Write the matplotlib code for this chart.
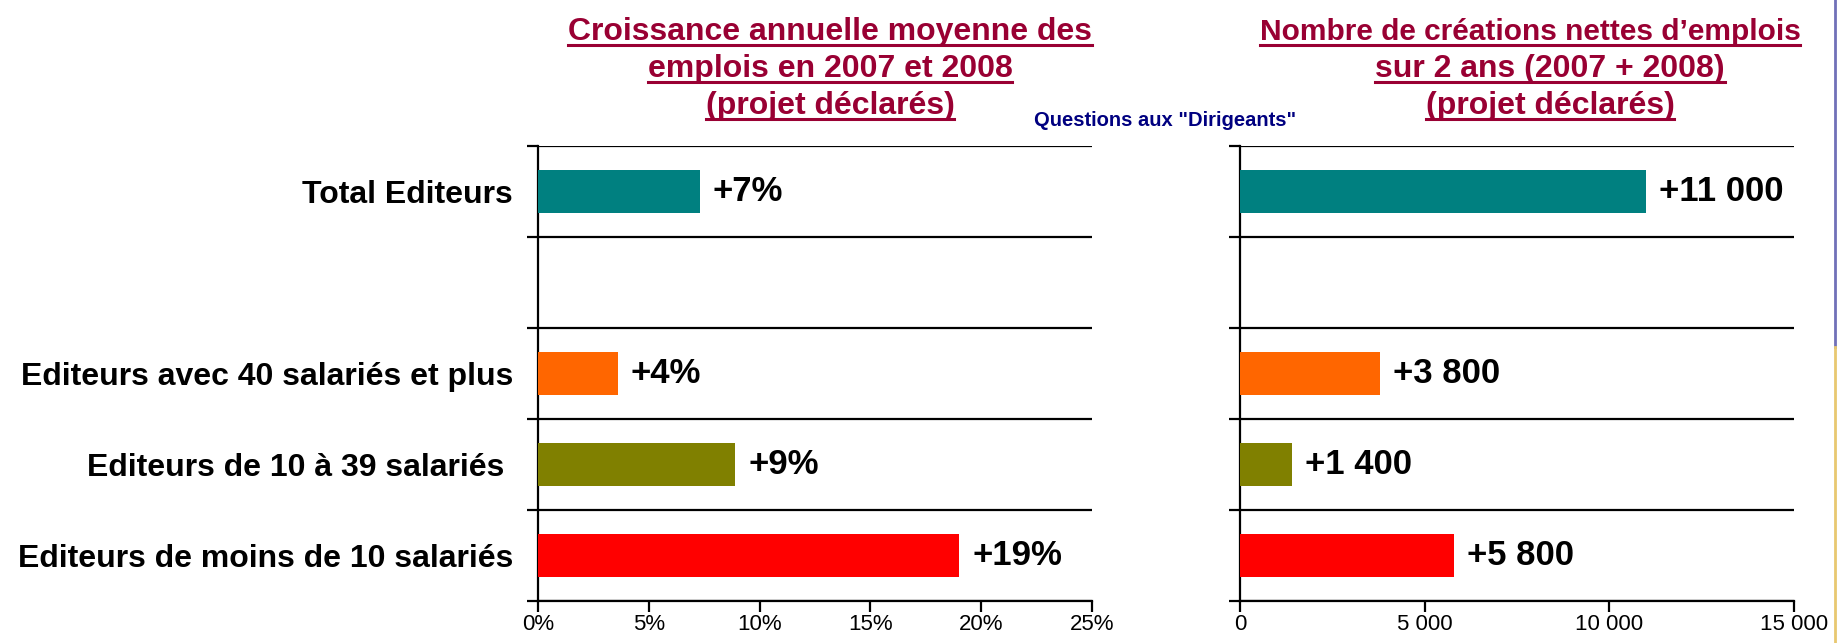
import numpy as np
import matplotlib
matplotlib.use("Agg")
import matplotlib.pyplot as plt
from matplotlib.lines import Line2D
from matplotlib.ticker import FuncFormatter

# données (de bas en haut)
categories = [
    "Editeurs de moins de 10 salariés",
    "Editeurs de 10 à 39 salariés ",
    "Editeurs avec 40 salariés et plus",
    "",
    "Total Editeurs",
]
growth = [19.0, 8.9, 3.6, None, 7.3]
growth_labels = ["+19%", "+9%", "+4%", "", "+7%"]
jobs = [5800, 1400, 3800, None, 11000]
jobs_labels = ["+5 800", "+1 400", "+3 800", "", "+11 000"]
bar_colors = ["#FF0000", "#808000", "#FF6600", None, "#008080"]

left_title = ["Croissance annuelle moyenne des", "emplois en 2007 et 2008", "(projet déclarés)"]
right_title = ["Nombre de créations nettes d\u2019emplois", "sur 2 ans (2007 + 2008)", "(projet déclarés)"]
subtitle = 'Questions aux "Dirigeants"'

W, H = 1837, 643
TITLE_COLOR = "#990033"
plt.rcParams["font.family"] = ["Liberation Sans", "DejaVu Sans"]

fig = plt.figure(figsize=(W / 100, H / 100), dpi=100)


def px(x0, y0, x1, y1):
    # rectangle in pixels (top-left origin) -> figure fraction
    return [x0 / W, 1 - y1 / H, (x1 - x0) / W, (y1 - y0) / H]


def draw_panel(ax, values, labels, xmax, xticks, fmt, show_cats):
    pos = [i for i, v in enumerate(values) if v is not None]
    ax.barh(pos, [values[i] for i in pos], height=0.48,
            color=[bar_colors[i] for i in pos], zorder=3)
    for i in pos:
        ax.annotate(labels[i], (values[i], i), xytext=(13, 0),
                    textcoords="offset pixels", va="center", ha="left",
                    fontsize=25, fontweight="bold", zorder=4)
    ax.set_xlim(0, xmax)
    ax.set_ylim(-0.5, len(values) - 0.5)
    ax.set_xticks(xticks)
    ax.xaxis.set_major_formatter(FuncFormatter(fmt))
    ax.set_yticks(np.arange(-0.5, len(values), 1))
    ax.set_yticklabels([])
    ax.set_yticks(range(len(values)), minor=True)
    if show_cats:
        ax.set_yticklabels(categories, minor=True, fontsize=23, fontweight="bold")
    ax.tick_params(axis="y", which="minor", length=0, pad=18)
    ax.tick_params(axis="y", which="major", length=8, width=1.6, direction="out")
    ax.tick_params(axis="x", length=8, width=1.6, direction="out", labelsize=16, pad=1)
    ax.grid(axis="y", which="major", color="black", linewidth=1.6, zorder=1)
    ax.set_axisbelow(True)
    for s in ["top", "right"]:
        ax.spines[s].set_visible(False)
    for s in ["left", "bottom"]:
        ax.spines[s].set_linewidth(1.6)


ax1 = fig.add_axes(px(538, 146, 1092, 601))
draw_panel(ax1, growth, growth_labels, 25, [0, 5, 10, 15, 20, 25],
           lambda v, p: f"{v:.0f}%", True)

ax2 = fig.add_axes(px(1240, 146, 1794, 601))
draw_panel(ax2, jobs, jobs_labels, 15000, [0, 5000, 10000, 15000],
           lambda v, p: f"{v:,.0f}".replace(",", " "), False)

# titres soulignés
title_texts = []
for lines, centers, sizes in [(left_title, [830, 830, 830], [23, 23, 23]),
                              (right_title, [1530, 1550, 1550], [21.5, 23, 23])]:
    for line, cx, base, fs in zip(lines, centers, [40, 77, 114], sizes):
        t = fig.text(cx / W, 1 - base / H, line, ha="center", va="baseline",
                     fontsize=fs, fontweight="bold", color=TITLE_COLOR)
        title_texts.append((t, base))

fig.text(1165 / W, 1 - 121 / H, subtitle, ha="center", va="center",
         fontsize=14.5, fontweight="bold", color="#000080")

fig.canvas.draw()
renderer = fig.canvas.get_renderer()
for t, base in title_texts:
    bb = t.get_window_extent(renderer)
    y = 1 - (base + 5) / H
    fig.add_artist(Line2D([bb.x0 / W, bb.x1 / W], [y, y], color=TITLE_COLOR,
                          linewidth=2.2, transform=fig.transFigure))

# bord de diapositive à droite
fig.add_artist(Line2D([1835 / W, 1835 / W], [1, 1 - 347 / H], color="#7070B8",
                      linewidth=2, transform=fig.transFigure))
fig.add_artist(Line2D([1835 / W, 1835 / W], [1 - 347 / H, 0], color="#E8C870",
                      linewidth=2, transform=fig.transFigure))

fig.savefig("out.png", dpi=100, facecolor="white")
